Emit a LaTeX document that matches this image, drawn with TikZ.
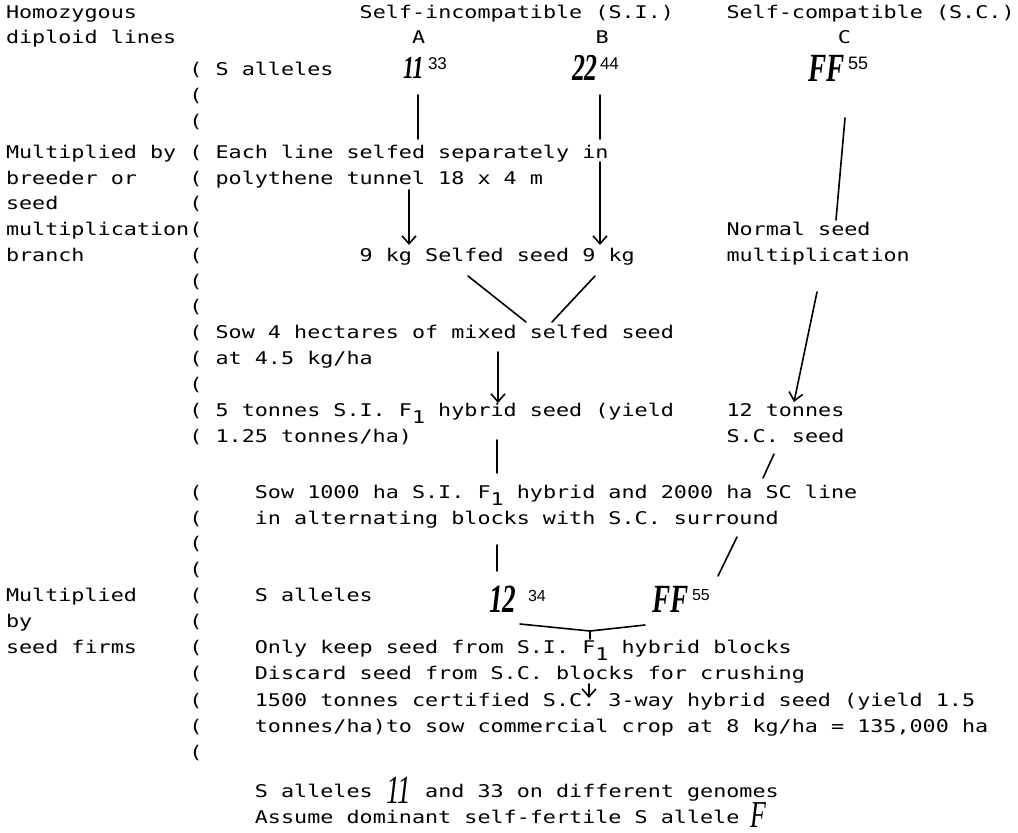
\documentclass[tikz,border=0pt]{standalone}
\usepackage{fontspec}
\usetikzlibrary{arrows.meta}
\setmonofont{DejaVu Sans Mono}[FakeStretch=1.243]
\newfontfamily\handfont{Liberation Serif}[FakeStretch=0.68]
\newfontfamily\supfont{Liberation Sans}
\newcommand\typed{\ttfamily\fontsize{17.5}{20}\selectfont}
\newcommand\lowone{\raisebox{-7pt}{1}}
\newcommand\col[1]{6+13.1*#1}
\tikzset{
  x=1pt, y=-1pt,
  tw/.style={font=\typed, anchor=base west, inner sep=0pt, outer sep=0pt},
  hw/.style={font=\handfont\bfseries\itshape\fontsize{#1}{#1}\selectfont, anchor=base west, inner sep=0pt, outer sep=0pt},
  hwthin/.style={font=\handfont\itshape\fontsize{#1}{#1}\selectfont, anchor=base west, inner sep=0pt, outer sep=0pt},
  supnum/.style={font=\supfont\fontsize{#1}{#1}\selectfont, anchor=base west, inner sep=0pt, outer sep=0pt},
  link/.style={line width=1.6pt, line cap=round},
  arr/.style={link, -{Straight Barb[length=8pt,width=14pt]}},
}
\begin{document}
\begin{tikzpicture}
\useasboundingbox (0,0) rectangle (1018,833);
\fill[white] (0,0) rectangle (1018,833);

% left-hand margin labels
\node[tw] (homo)  at ({\col{0}},18)  {Homozygous};
\node[tw] (dipl)  at ({\col{0}},43)  {diploid lines};
\node[tw] (mult)  at ({\col{0}},158) {Multiplied by};
\node[tw] (breed) at ({\col{0}},184) {breeder or};
\node[tw] (seedl) at ({\col{0}},209) {seed};
\node[tw] (mplc)  at ({\col{0}},235) {multiplication};
\node[tw] (brch)  at ({\col{0}},261) {branch};
\node[tw] (mult2) at ({\col{0}},601) {Multiplied};
\node[tw] (byl)   at ({\col{0}},627) {by};
\node[tw] (firms) at ({\col{0}},653) {seed firms};

% bracket column
\foreach \r/\b in {2/75,3/101,4/127,5/158,6/184,7/209,8/235,9/261,10/287,11/312,
                   12/338,13/364,14/390,15/416,16/442,18/498,19/524,20/549,21/575,
                   22/601,23/627,24/653,25/679,26/706,27/732,28/758}
  \node[tw] (par\r) at ({\col{14}},\b) {(};

% column headings
\node[tw] (si)  at ({\col{27}},18) {Self-incompatible (S.I.)};
\node[tw] (sc)  at ({\col{55}},18) {Self-compatible (S.C.)};
\node[tw] (la)  at ({\col{31}},43) {A};
\node[tw] (lb)  at ({\col{45}},43) {B};
\node[tw] (lc)  at ({\col{63.5}},43) {C};

% S alleles of the three lines
\node[tw] (sall) at ({\col{16}},75) {S alleles};
\node[hw=32] (a11) at (403,78) {11};
\node[supnum=17] (a33) at (428,69) {33};
\node[hw=38] (b22) at (572,80) {22};
\node[supnum=17] (b44) at (600,69) {44};
\node[hw=40] (cff) at (808,81) {FF};
\node[supnum=18] (c55) at (848,69) {55};

% breeder stage
\node[tw] (self1) at ({\col{16}},158) {Each line selfed separately in};
\node[tw] (self2) at ({\col{16}},184) {polythene tunnel 18 x 4 m};
\node[tw] (norm1) at ({\col{55}},235) {Normal seed};
\node[tw] (kg)    at ({\col{27}},261) {9 kg Selfed seed 9 kg};
\node[tw] (norm2) at ({\col{55}},261) {multiplication};
\node[tw] (sow1)  at ({\col{16}},338) {Sow 4 hectares of mixed selfed seed};
\node[tw] (sow2)  at ({\col{16}},364) {at 4.5 kg/ha};
\node[tw] (f1a)   at ({\col{16}},416) {5 tonnes S.I. F\lowone{} hybrid seed (yield};
\node[tw] (f1b)   at ({\col{16}},442) {1.25 tonnes/ha)};
\node[tw] (sc1)   at ({\col{55}},416) {12 tonnes};
\node[tw] (sc2)   at ({\col{55}},442) {S.C. seed};

% seed firm stage
\node[tw] (blk1) at ({\col{19}},498) {Sow 1000 ha S.I. F\lowone{} hybrid and 2000 ha SC line};
\node[tw] (blk2) at ({\col{19}},524) {in alternating blocks with S.C. surround};
\node[tw] (sal2) at ({\col{19}},601) {S alleles};
\node[hw=40] (h12) at (489,612) {12};
\node[supnum=16] (h34) at (528,601) {34};
\node[hw=40] (hff) at (652,612) {FF};
\node[supnum=16] (h55) at (692,600) {55};
\node[tw] (keep) at ({\col{19}},653) {Only keep seed from S.I. F\lowone{} hybrid blocks};
\node[tw] (disc) at ({\col{19}},679) {Discard seed from S.C. blocks for crushing};
\node[tw] (cert1) at ({\col{19}},706) {1500 tonnes certified S.C. 3-way hybrid seed (yield 1.5};
\node[tw] (cert2) at ({\col{19}},732) {tonnes/ha)to sow commercial crop at 8 kg/ha = 135,000 ha};

% footnotes
\node[tw] (note1) at ({\col{19}},797) {S alleles};
\node[hwthin=40] (n11) at (386,803) {11};
\node[tw] (note1b) at ({\col{32}},797) {and 33 on different genomes};
\node[tw] (note2) at ({\col{19}},823) {Assume dominant self-fertile S allele};
\node[hwthin=38] (nf) at (750,827) {F};

% connector end points
\coordinate (aT) at (418,95);   \coordinate (aB) at (418,139);
\coordinate (aT2) at (409,190); \coordinate (aB2) at (409,245);
\coordinate (bT) at (600,95);   \coordinate (bB) at (600,139);
\coordinate (bT2) at (600,162); \coordinate (bB2) at (600,245);
\coordinate (cT) at (845,118);  \coordinate (cB) at (836,220);
\coordinate (dL1) at (468,276); \coordinate (dL2) at (526,322);
\coordinate (dR1) at (595,276); \coordinate (dR2) at (552,322);
\coordinate (mT) at (498,352);  \coordinate (mB) at (498,403);
\coordinate (nT) at (817,292);  \coordinate (nB) at (794,402);
\coordinate (sT) at (774,454);  \coordinate (sB) at (763,478);
\coordinate (hT) at (497,440);  \coordinate (hB) at (497,473);
\coordinate (iT) at (497,545);  \coordinate (iB) at (497,571);
\coordinate (rT) at (737,537);  \coordinate (rB) at (718,576);
\coordinate (jL) at (520,624);  \coordinate (jM) at (590,631);
\coordinate (jR) at (645,625);  \coordinate (jB) at (590,639);
\coordinate (kT) at (589,684);  \coordinate (kB) at (589,698);

% connectors
\draw[link] (aT) -- (aB);
\draw[arr]  (aT2) -- (aB2);
\draw[link] (bT) -- (bB);
\draw[arr]  (bT2) -- (bB2);
\draw[link] (cT) -- (cB);
\draw[link] (dL1) -- (dL2);
\draw[link] (dR1) -- (dR2);
\draw[arr]  (mT) -- (mB);
\draw[arr]  (nT) -- (nB);
\draw[link] (sT) -- (sB);
\draw[link] (hT) -- (hB);
\draw[link] (iT) -- (iB);
\draw[link] (rT) -- (rB);
\draw[link] (jL) -- (jM) -- (jR);
\draw[link] (jM) -- (jB);
\draw[arr]  (kT) -- (kB);
\end{tikzpicture}
\end{document}
